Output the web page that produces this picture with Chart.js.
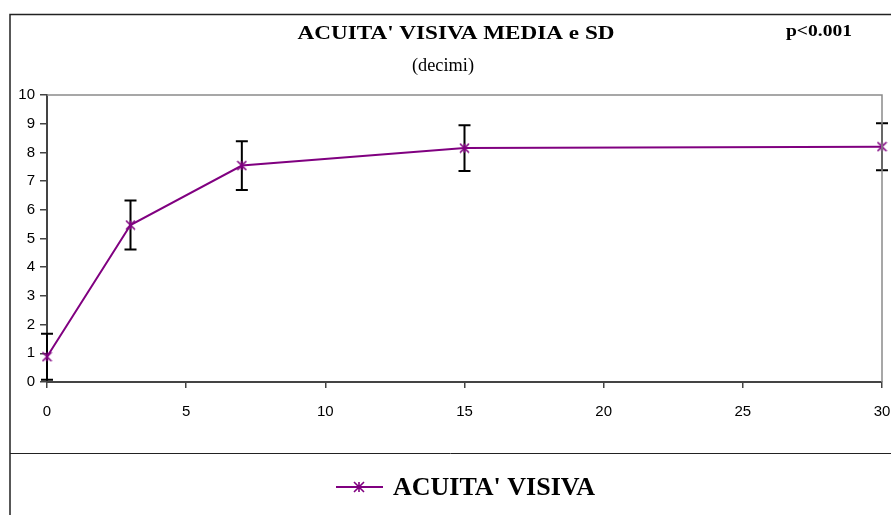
<!DOCTYPE html>
<html>
<head>
<meta charset="utf-8">
<script src="https://cdn.jsdelivr.net/npm/chart.js@4/dist/chart.umd.min.js"></script>
<style>
  body { margin: 0; background: #fff; }
  #wrap { width: 891px; height: 515px; }
</style>
</head>
<body>
<div id="wrap"><canvas id="acuita" width="891" height="515"></canvas></div>
<script>
// giorni dopo l'intervento e acuita' visiva (decimi)
const days = [0, 3, 7, 15, 30];
const meanVA = [0.88, 5.47, 7.54, 8.15, 8.2];
const sdVA = [0.8, 0.85, 0.85, 0.8, 0.82];
const xTicks = [0, 5, 10, 15, 20, 25, 30];
const yTicks = [0, 1, 2, 3, 4, 5, 6, 7, 8, 9, 10];

const purple = '#800080';

// marker "star" di Excel: una X con la linea verticale
function starMarker(size) {
    var c = document.createElement('canvas');
    c.width = size; c.height = size;
    var g = c.getContext('2d');
    var m = size / 2, r = size / 2 - 1;
    g.strokeStyle = purple;
    g.lineWidth = 1.6;
    g.beginPath();
    g.moveTo(m - r, m - r); g.lineTo(m + r, m + r);
    g.moveTo(m + r, m - r); g.lineTo(m - r, m + r);
    g.moveTo(m, m - r); g.lineTo(m, m + r);
    g.stroke();
    return c;
}

// testo un po' allargato come nel grafico di Excel
function wideText(ctx, text, cx, cy, width) {
    var w = ctx.measureText(text).width;
    ctx.save();
    ctx.translate(cx, cy);
    ctx.scale(width / w, 1);
    ctx.textAlign = 'center';
    ctx.textBaseline = 'middle';
    ctx.fillText(text, 0, 0);
    ctx.restore();
}

const extras = {
    id: 'extras',
    beforeDatasetsDraw(chart) {
        const ctx = chart.ctx;
        const x = chart.scales.x, y = chart.scales.y;
        ctx.save();
        // barre di errore (SD)
        ctx.strokeStyle = '#000';
        ctx.lineWidth = 2;
        days.forEach((d, i) => {
            const px = x.getPixelForValue(d);
            const top = y.getPixelForValue(meanVA[i] + sdVA[i]);
            const bot = y.getPixelForValue(Math.max(0, meanVA[i] - sdVA[i]));
            ctx.beginPath();
            ctx.moveTo(px, top); ctx.lineTo(px, bot);
            ctx.moveTo(px - 6, top); ctx.lineTo(px + 6, top);
            ctx.moveTo(px - 6, bot); ctx.lineTo(px + 6, bot);
            ctx.stroke();
        });
        ctx.restore();
    },
    afterDraw(chart) {
        const ctx = chart.ctx;
        const a = chart.chartArea;
        ctx.save();
        // cornice esterna e separatore della legenda
        ctx.strokeStyle = '#222';
        ctx.lineWidth = 1.5;
        ctx.beginPath();
        ctx.moveTo(10, 515); ctx.lineTo(10, 14.5); ctx.lineTo(891, 14.5);
        ctx.stroke();
        ctx.lineWidth = 1;
        ctx.beginPath();
        ctx.moveTo(10, 453.5); ctx.lineTo(891, 453.5);
        ctx.stroke();
        // bordo alto e destro dell'area del grafico
        ctx.strokeStyle = '#8a8a8a';
        ctx.lineWidth = 1.5;
        ctx.beginPath();
        ctx.moveTo(a.left, a.top); ctx.lineTo(a.right, a.top); ctx.lineTo(a.right, a.bottom);
        ctx.stroke();

        // titoli
        ctx.fillStyle = '#000';
        ctx.font = 'bold 19px "Liberation Serif"';
        wideText(ctx, "ACUITA' VISIVA MEDIA e SD", 456, 34, 317);
        ctx.font = 'bold 17px "Liberation Serif"';
        wideText(ctx, 'p<0.001', 819, 32, 66);
        ctx.font = '18px "Liberation Serif"';
        wideText(ctx, '(decimi)', 443, 66, 62);

        // legenda
        ctx.strokeStyle = purple;
        ctx.lineWidth = 2;
        ctx.beginPath();
        ctx.moveTo(336, 487); ctx.lineTo(383, 487);
        ctx.stroke();
        ctx.drawImage(starMarker(12), 353, 481);
        ctx.font = 'bold 25px "Liberation Serif"';
        wideText(ctx, "ACUITA' VISIVA", 494, 489, 202);
        ctx.restore();
    }
};

new Chart('acuita', {
    type: 'line',
    data: {
        datasets: [{
            label: "ACUITA' VISIVA",
            data: days.map((d, i) => ({ x: d, y: meanVA[i] })),
            borderColor: purple,
            borderWidth: 2,
            pointStyle: starMarker(11),
            pointRadius: 5,
            tension: 0,
            clip: false
        }]
    },
    options: {
        responsive: false,
        animation: false,
        layout: { padding: { left: 0, right: 9, top: 95, bottom: 93 } },
        plugins: {
            legend: { display: false },
            tooltip: { enabled: false }
        },
        scales: {
            x: {
                type: 'linear',
                min: 0, max: 30,
                afterFit(scale) {
                    scale.height = 40;
                    scale.paddingLeft = 0;
                    scale.paddingRight = 0;
                },
                afterBuildTicks(scale) { scale.ticks = xTicks.map(v => ({ value: v })); },
                ticks: { color: '#000', font: { family: '"Liberation Sans"', size: 15 }, padding: 15 },
                grid: { drawOnChartArea: false, tickLength: 6, color: '#444', lineWidth: 1.5 },
                border: { color: '#444', width: 2 }
            },
            y: {
                min: 0, max: 10,
                afterFit(scale) {
                    scale.width = 47;
                    scale.paddingTop = 0;
                    scale.paddingBottom = 0;
                },
                afterBuildTicks(scale) { scale.ticks = yTicks.map(v => ({ value: v })); },
                ticks: { color: '#000', font: { family: '"Liberation Sans"', size: 15 }, padding: 5 },
                grid: { drawOnChartArea: false, tickLength: 7, color: '#444', lineWidth: 1.5 },
                border: { color: '#444', width: 2 }
            }
        }
    },
    plugins: [extras]
});
</script>
</body>
</html>
